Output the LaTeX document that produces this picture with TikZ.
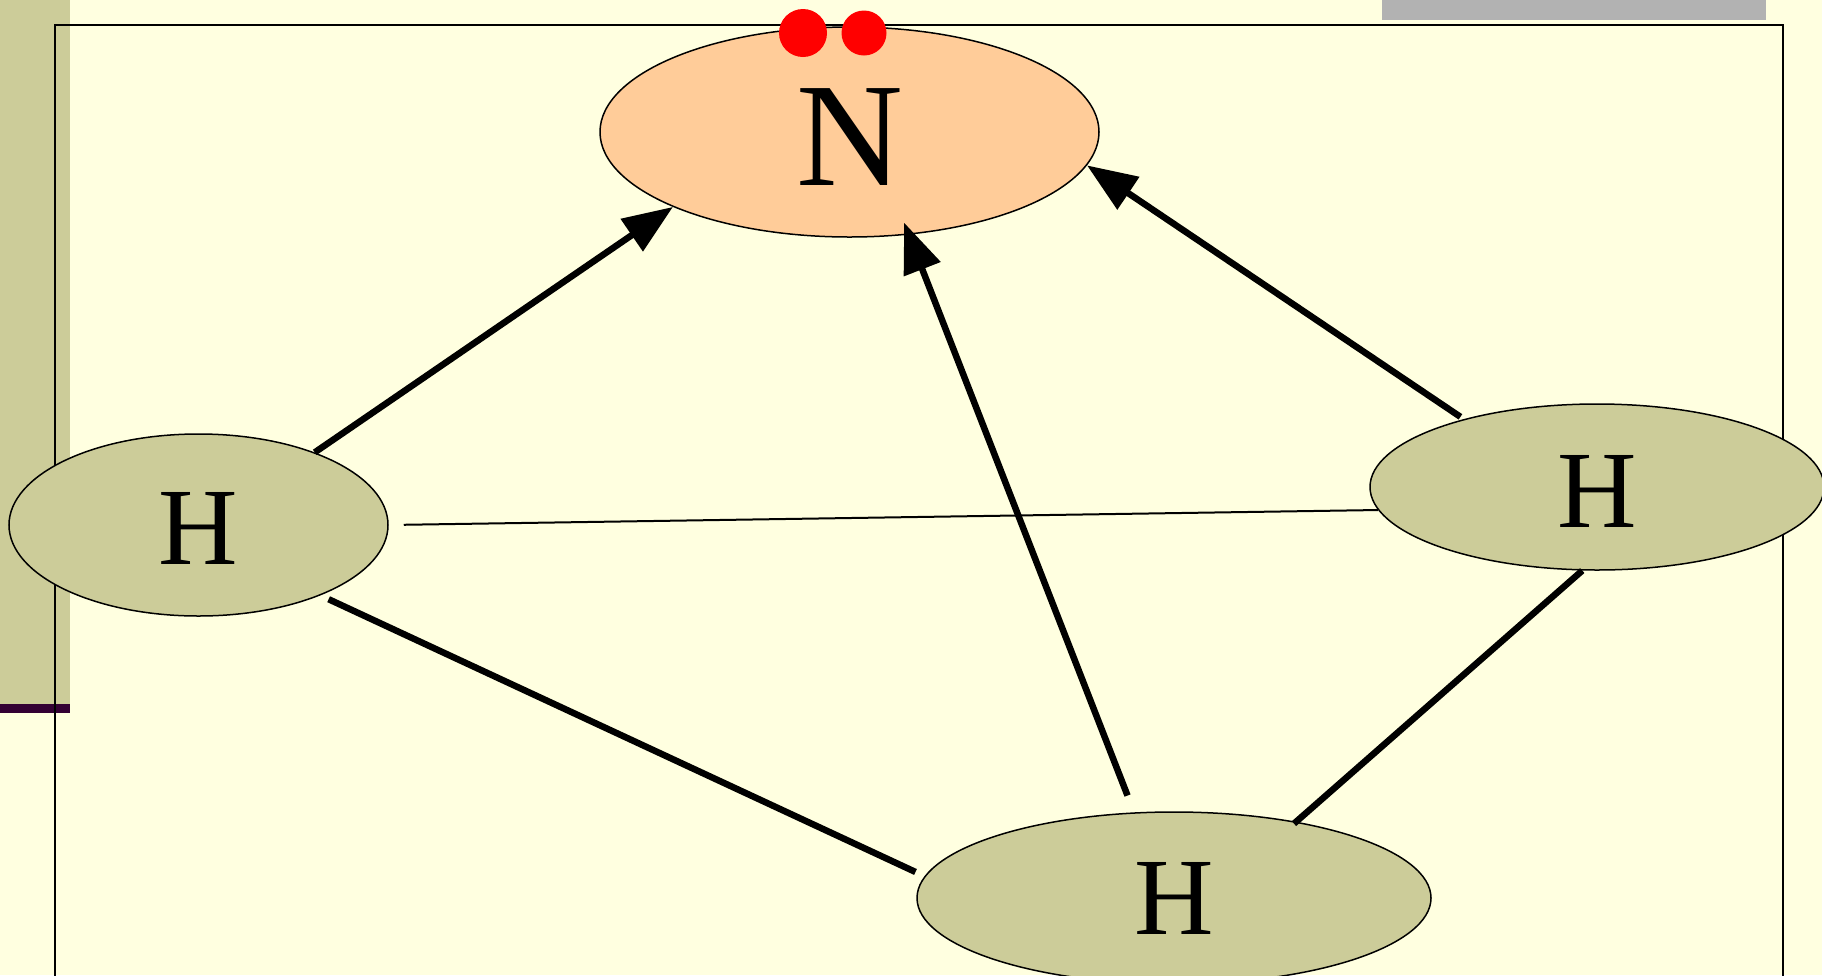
\documentclass[tikz,border=0pt]{standalone}
\usepackage{fontspec}
\setmainfont{Liberation Serif}
\usetikzlibrary{shapes.geometric,arrows.meta}
\definecolor{bgyellow}{RGB}{255,255,224}
\definecolor{olive}{RGB}{204,204,153}
\definecolor{peach}{RGB}{255,204,153}
\definecolor{darkpurple}{RGB}{51,0,51}
\definecolor{bargray}{RGB}{178,178,178}
\begin{document}
\begin{tikzpicture}[x=1pt,y=-1pt,
  atom/.style={ellipse, draw=black, line width=1.5pt, inner sep=0pt, text=black},
  hatom/.style={atom, fill=olive, minimum width=#1, font=\fontsize{110pt}{112pt}\selectfont},
  natom/.style={atom, fill=peach, font=\fontsize{148pt}{150pt}\selectfont},
  bond/.style={line width=6.5pt, line cap=butt},
  thinbond/.style={line width=2pt},
  dative/.style={bond, -{Triangle[length=50pt,width=38pt]}},
  dot/.style={fill=red}]
\useasboundingbox (0,0) rectangle (1822,975);
\clip (0,0) rectangle (1822,975);
% background and decorations
\fill[bgyellow] (0,0) rectangle (1822,975);
\fill[olive] (0,0) rectangle (70,704);
\fill[darkpurple] (0,704) rectangle (70,713);
\fill[bargray] (1382,0) rectangle (1766,20);
\draw[line width=1.5pt] (55,1000) -- (55,25) -- (1783,25) -- (1783,1000);
% atoms
\node[natom, minimum width=499pt, minimum height=210pt, text height=106pt, text depth=0pt] (n) at (849.5,132) {N};
\node[hatom=379pt, minimum height=182pt, text height=78pt, text depth=0pt] (hl) at (198.5,525) {H};
\node[hatom=454pt, minimum height=166pt, text height=80pt, text depth=0pt] (hr) at (1597,487) {H};
\node[hatom=514pt, minimum height=172pt, text height=72pt, text depth=0pt] (hb) at (1174,898) {H};
% bonds
\draw[dative] (hl.32) -- (n.203);
\draw[dative, shorten <=18pt, shorten >=-13pt] (hb.115) -- (n.300);
\draw[dative, shorten <=4pt] (hr.153) -- (n.352);
\draw[thinbond, shorten <=15pt] (hl.0) -- (hr.186);
\draw[bond, shorten <=9pt, shorten >=10pt] (hl.330) -- (hb.175);
\draw[bond, shorten >=-3pt] (hr.260) -- (hb.32);
% lone pair
\fill[dot] (803,33) circle[radius=24pt];
\fill[dot] (864,33) circle[radius=22.5pt];
\end{tikzpicture}
\end{document}
